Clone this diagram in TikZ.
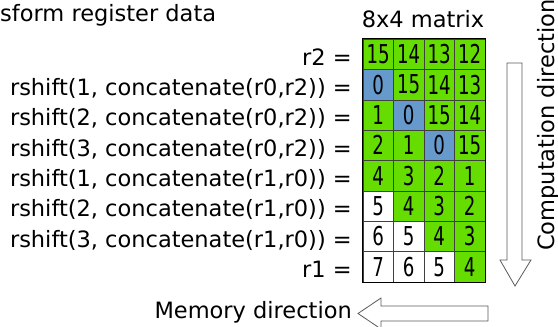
\documentclass[tikz,border=0pt]{standalone}
\usepackage{fontspec}
\setmainfont{DejaVu Sans}
\newfontfamily\cellfont[FakeStretch=0.7]{DejaVu Sans}
\definecolor{cellgreen}{RGB}{102,221,0}
\definecolor{cellblue}{RGB}{102,153,204}
\definecolor{arrowgray}{RGB}{90,90,90}

\begin{document}
\begin{tikzpicture}[x=1pt,y=-1pt,
  cell/.style={draw=black!75,minimum width=30.5pt,minimum height=30.375pt,inner sep=0pt,font=\cellfont\fontsize{26}{26}\selectfont},
  gcell/.style={cell,fill=cellgreen},
  bcell/.style={cell,fill=cellblue},
  wcell/.style={cell,fill=white},
  lab/.style={anchor=base east,inner sep=0pt,font=\fontsize{22.5}{22.5}\selectfont},
  hollow/.style={draw=arrowgray,fill=white,line width=0.8pt}]
\useasboundingbox (0,0) rectangle (558,327);

\node[lab,anchor=base west] (title) at (0,21) {sform register data};
\node[lab,anchor=base] (mtitle) at (423,27) {8x4 matrix};

\node[gcell] (c11) at (378.25,54.19) {15};
\node[gcell] (c12) at (408.75,54.19) {14};
\node[gcell] (c13) at (439.25,54.19) {13};
\node[gcell] (c14) at (469.75,54.19) {12};

\node[bcell] (c21) at (378.25,84.56) {0};
\node[gcell] (c22) at (408.75,84.56) {15};
\node[gcell] (c23) at (439.25,84.56) {14};
\node[gcell] (c24) at (469.75,84.56) {13};

\node[gcell] (c31) at (378.25,114.94) {1};
\node[bcell] (c32) at (408.75,114.94) {0};
\node[gcell] (c33) at (439.25,114.94) {15};
\node[gcell] (c34) at (469.75,114.94) {14};

\node[gcell] (c41) at (378.25,145.31) {2};
\node[gcell] (c42) at (408.75,145.31) {1};
\node[bcell] (c43) at (439.25,145.31) {0};
\node[gcell] (c44) at (469.75,145.31) {15};

\node[gcell] (c51) at (378.25,175.69) {4};
\node[gcell] (c52) at (408.75,175.69) {3};
\node[gcell] (c53) at (439.25,175.69) {2};
\node[gcell] (c54) at (469.75,175.69) {1};

\node[wcell] (c61) at (378.25,206.06) {5};
\node[gcell] (c62) at (408.75,206.06) {4};
\node[gcell] (c63) at (439.25,206.06) {3};
\node[gcell] (c64) at (469.75,206.06) {2};

\node[wcell] (c71) at (378.25,236.44) {6};
\node[wcell] (c72) at (408.75,236.44) {5};
\node[gcell] (c73) at (439.25,236.44) {4};
\node[gcell] (c74) at (469.75,236.44) {3};

\node[wcell] (c81) at (378.25,266.81) {7};
\node[wcell] (c82) at (408.75,266.81) {6};
\node[wcell] (c83) at (439.25,266.81) {5};
\node[gcell] (c84) at (469.75,266.81) {4};

% outer frame
\draw[black,line width=0.9pt] (c11.north west) rectangle (c84.south east);

% row labels
\node[lab] (lab1) at (352,65.0) {r2 =};
\node[lab] (lab2) at (352,95.4) {rshift(1, concatenate(r0,r2)) =};
\node[lab] (lab3) at (352,125.7) {rshift(2, concatenate(r0,r2)) =};
\node[lab] (lab4) at (352,156.1) {rshift(3, concatenate(r0,r2)) =};
\node[lab] (lab5) at (352,186.5) {rshift(1, concatenate(r1,r0)) =};
\node[lab] (lab6) at (352,216.9) {rshift(2, concatenate(r1,r0)) =};
\node[lab] (lab7) at (352,247.2) {rshift(3, concatenate(r1,r0)) =};
\node[lab] (lab8) at (352,277.6) {r1 =};

% computation direction
\draw[hollow] (507,63) -- (522,63) -- (522,260) -- (531,260) -- (515,286) -- (500,260) -- (507,260) -- cycle;
\node[lab,anchor=base west,rotate=90] (comp) at (554,251) {Computation direction};

% memory direction
\node[lab] (mem) at (352,318) {Memory direction};
\draw[hollow] (488,306) -- (381,306) -- (381,298) -- (358,313.5) -- (381,329) -- (381,321) -- (488,321) -- cycle;

\end{tikzpicture}
\end{document}
